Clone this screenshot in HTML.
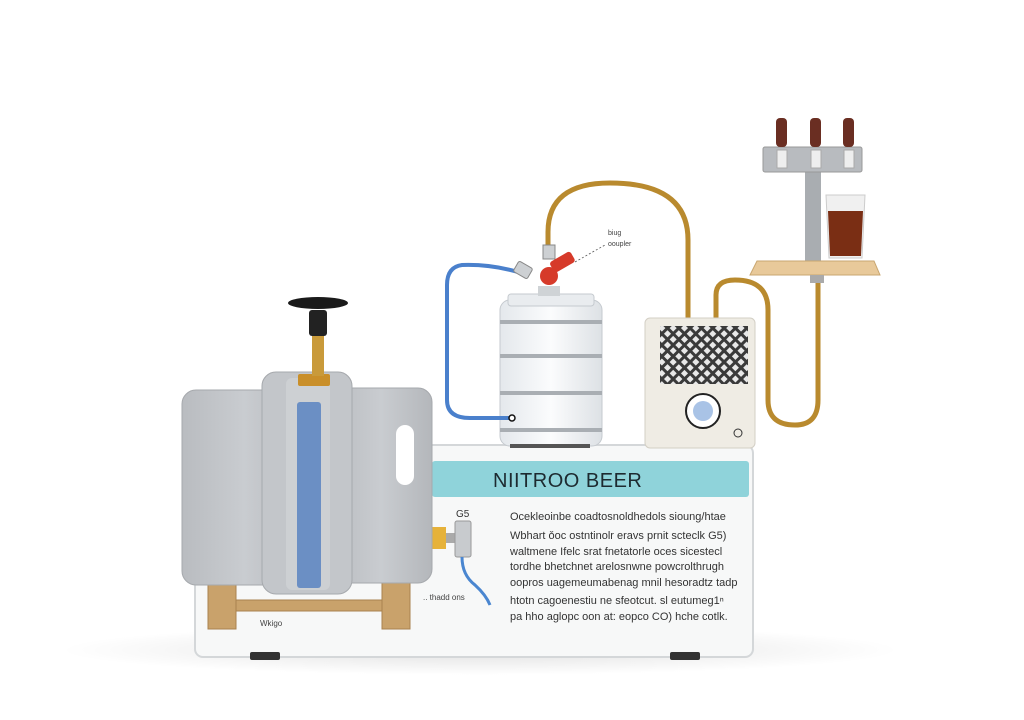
<!DOCTYPE html>
<html><head><meta charset="utf-8"><style>
html,body{margin:0;padding:0;background:#fff;width:1024px;height:720px;overflow:hidden}
svg{display:block}
text{font-family:"Liberation Sans",sans-serif}
</style></head><body>
<svg width="1024" height="720" viewBox="0 0 1024 720" xmlns="http://www.w3.org/2000/svg">
<defs>
<linearGradient id="gray" x1="0" x2="1"><stop offset="0" stop-color="#b9bcc0"/><stop offset=".5" stop-color="#c9ccd0"/><stop offset="1" stop-color="#b4b7bb"/></linearGradient>
<linearGradient id="keg" x1="0" x2="1"><stop offset="0" stop-color="#e4e8ec"/><stop offset=".5" stop-color="#fbfcfd"/><stop offset="1" stop-color="#dde1e5"/></linearGradient>
<pattern id="mesh" width="8" height="8" patternUnits="userSpaceOnUse" patternTransform="rotate(45)"><rect width="8" height="8" fill="#3a3a3a"/><rect x="1.5" y="1.5" width="5" height="5" fill="#e8e8e8"/></pattern>
<radialGradient id="shadow"><stop offset="0" stop-color="#000" stop-opacity=".12"/><stop offset="1" stop-color="#000" stop-opacity="0"/></radialGradient>
</defs>
<ellipse cx="480" cy="650" rx="420" ry="25" fill="url(#shadow)"/>
<!-- base box -->
<rect x="195" y="445" width="558" height="212" rx="8" fill="#f7f8f8" stroke="#d4d7d9" stroke-width="2"/>
<rect x="250" y="652" width="30" height="8" rx="2" fill="#333"/><rect x="670" y="652" width="30" height="8" rx="2" fill="#333"/>
<rect x="432" y="461" width="317" height="36" rx="3" fill="#8fd3da"/>
<text x="493" y="487" font-size="20" fill="#1d2a30" letter-spacing="0.5">NIITROO BEER</text>
<g font-size="11" fill="#333">
<text x="510" y="520">Ocekleoinbe coadtosnoldhedols sioung/htae</text>
<text x="510" y="539">Wbhart ǒoc ostntinolr eravs prnit scteclk G5)</text>
<text x="510" y="555">waltmene Ifelc srat fnetatorle oces sicestecl</text>
<text x="510" y="570">tordhe bhetchnet arelosnwne powcrolthrugh</text>
<text x="510" y="586">oopros uagemeumabenag mnil hesoradtz tadp</text>
<text x="510" y="604">htotn cagoenestiu ne sfeotcut. sl eutumeg1ⁿ</text>
<text x="510" y="620">pa hho aglopc oon at: eopco CO) hche cotlk.</text>
</g>
<text x="456" y="517" font-size="10" fill="#333">G5</text>
<text x="423" y="600" font-size="8" fill="#444">.. thadd ons</text>
<text x="260" y="626" font-size="8" fill="#444">Wkigo</text>
<!-- regulator on side -->
<rect x="430" y="527" width="16" height="22" fill="#e6b23a"/>
<rect x="446" y="533" width="10" height="10" fill="#aaa"/>
<rect x="455" y="521" width="16" height="36" rx="2" fill="#c8cbce" stroke="#999"/>
<path d="M462 557 Q462 575 475 585 Q486 595 490 605" stroke="#4a86d0" stroke-width="3" fill="none"/>
<!-- wooden stand -->
<rect x="208" y="576" width="28" height="53" fill="#c9a26b" stroke="#a9824f"/>
<rect x="382" y="576" width="28" height="53" fill="#c9a26b" stroke="#a9824f"/>
<rect x="236" y="600" width="146" height="11" fill="#c9a26b" stroke="#a9824f"/>
<!-- tank -->
<rect x="182" y="390" width="125" height="195" rx="14" fill="url(#gray)" stroke="#a6a9ad"/>
<rect x="330" y="388" width="102" height="195" rx="14" fill="url(#gray)" stroke="#a6a9ad"/>
<rect x="262" y="372" width="90" height="222" rx="14" fill="#c3c6ca" stroke="#a6a9ad"/>
<rect x="286" y="378" width="44" height="212" rx="6" fill="#cdd0d3"/>
<rect x="297" y="402" width="24" height="186" rx="3" fill="#6b8fc4"/>
<rect x="396" y="425" width="18" height="60" rx="9" fill="#fff"/>
<rect x="298" y="374" width="32" height="12" rx="2" fill="#c98f2a"/>
<rect x="312" y="334" width="12" height="42" fill="#c99a3a"/>
<rect x="309" y="310" width="18" height="26" rx="3" fill="#222"/>
<ellipse cx="318" cy="303" rx="30" ry="6" fill="#1a1a1a"/>
<!-- gold tube main -->
<path d="M548 248 L548 232 Q548 183 610 183 Q688 183 688 240 L688 318" stroke="#b98a2e" stroke-width="5" fill="none"/>
<!-- gold loop -->
<path d="M716 318 L716 295 Q716 280 735 280 Q768 280 768 310 L768 400 Q768 425 795 425 Q818 425 818 400 L818 278" stroke="#b98a2e" stroke-width="5" fill="none"/>
<!-- keg -->
<rect x="500" y="300" width="102" height="146" rx="10" fill="url(#keg)" stroke="#c5cacf"/>
<rect x="508" y="294" width="86" height="12" rx="3" fill="#e9ecef" stroke="#c5cacf"/>
<rect x="538" y="286" width="22" height="10" fill="#cfd3d6"/>
<g stroke="#a9aeb3" stroke-width="4"><line x1="500" y1="322" x2="602" y2="322"/><line x1="500" y1="356" x2="602" y2="356"/><line x1="500" y1="393" x2="602" y2="393"/><line x1="500" y1="430" x2="602" y2="430"/></g>
<rect x="510" y="444" width="80" height="4" fill="#555"/>
<!-- blue tube -->
<path d="M518 272 Q490 264 462 265 Q447 267 447 285 L447 400 Q447 418 470 418 L512 418" stroke="#4a80cc" stroke-width="4" fill="none"/>
<circle cx="512" cy="418" r="3" fill="#fff" stroke="#111" stroke-width="1.5"/>
<!-- coupler -->
<rect x="515" y="264" width="16" height="12" rx="2" fill="#cdd0d3" stroke="#888" transform="rotate(30 523 270)"/>
<rect x="543" y="245" width="12" height="14" fill="#cdd0d3" stroke="#888"/>
<circle cx="549" cy="276" r="9" fill="#d63a2a"/>
<rect x="552" y="262" width="24" height="12" rx="3" fill="#d63a2a" transform="rotate(-30 552 268)"/>
<path d="M575 262 L605 245" stroke="#555" stroke-dasharray="2 2" stroke-width="0.8"/>
<text x="608" y="235" font-size="7" fill="#444">biug</text>
<text x="608" y="246" font-size="7" fill="#444">ooupler</text>
<!-- chiller -->
<rect x="645" y="318" width="110" height="130" rx="5" fill="#efece4" stroke="#d3cfc5"/>
<rect x="660" y="326" width="88" height="58" fill="url(#mesh)"/>
<circle cx="703" cy="411" r="17" fill="#fff" stroke="#222" stroke-width="2"/>
<circle cx="703" cy="411" r="10" fill="#a9c3e6"/>
<circle cx="738" cy="433" r="4" fill="none" stroke="#333"/>
<!-- tower -->
<rect x="805" y="168" width="16" height="96" fill="#a9adb1"/>
<rect x="763" y="147" width="99" height="25" rx="2" fill="#b8bbbf" stroke="#999"/>
<g fill="#6a2e22"><rect x="776" y="118" width="11" height="29" rx="4"/><rect x="810" y="118" width="11" height="29" rx="4"/><rect x="843" y="118" width="11" height="29" rx="4"/></g>
<g fill="#eee" stroke="#aaa"><rect x="777" y="150" width="10" height="18"/><rect x="811" y="150" width="10" height="18"/><rect x="844" y="150" width="10" height="18"/></g>
<path d="M826 195 L865 195 L862 258 L829 258 Z" fill="#f0f0f0" stroke="#ccc"/>
<path d="M828 211 L863 211 L861 256 L830 256 Z" fill="#7a2e14"/>
<path d="M757 261 L874 261 L880 275 L750 275 Z" fill="#e8c99a" stroke="#c9a670"/>
<rect x="810" y="275" width="14" height="8" fill="#aaa"/>
</svg>
</body></html>
